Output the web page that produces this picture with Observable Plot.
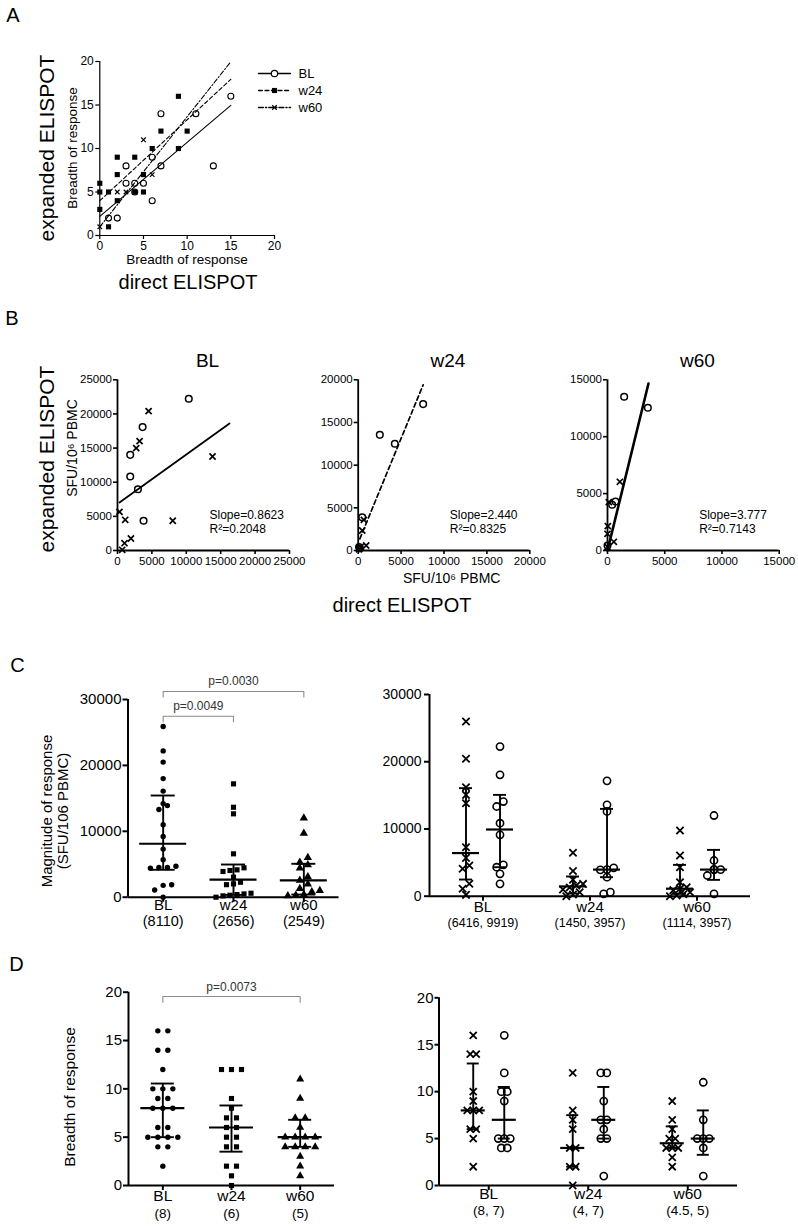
<!DOCTYPE html>
<html><head><meta charset="utf-8">
<script src="https://cdn.jsdelivr.net/npm/d3@7"></script>
<script src="https://cdn.jsdelivr.net/npm/@observablehq/plot@0.6"></script>
<style>
html,body{margin:0;padding:0;background:#fff;overflow:hidden}
#page{position:relative;width:798px;height:1229px;font-family:"Liberation Sans",Arial,Helvetica,sans-serif;color:#000;background:#fff}
.lbl{position:absolute;white-space:nowrap;line-height:1}
</style></head>
<body><div id="page"></div>
<script>
// ================= DATA =================
const cats = ["BL", "w24", "w60"];

// Panel A: breadth of response, direct (x) vs expanded (y) ELISPOT
const aBLDirect    = [1, 2, 3, 3, 4, 4, 5, 6, 6, 7, 7, 11, 13, 15];
const aBLExpanded  = [2, 2, 8, 6, 6, 5, 6, 9, 4, 14, 8, 14, 8, 16];
const aW24Direct   = [0, 0, 0, 1, 1, 2, 2, 2, 4, 4, 5, 5, 6, 7, 9, 9, 10];
const aW24Expanded = [6, 5, 3, 5, 1, 9, 7, 4, 9, 5, 7, 5, 10, 12, 16, 10, 12];
const aW60Direct   = [0, 2, 3, 5, 6];
const aW60Expanded = [1, 5, 5, 11, 7];
const aFitSlope     = [0.85, 0.93, 1.265];
const aFitIntercept = [2.2, 4.0, 1.0];
const aFitRange     = [0, 15];
const aTicks = [0, 5, 10, 15, 20];

// Panel B: SFU/10^6 PBMC, direct (x) vs expanded (y)
const bBL_Ox = [10360, 3650, 1850, 1850, 2970, 3790];
const bBL_Oy = [22220, 18070, 14010, 10840, 8980, 4350];
const bBL_Xx = [4520, 3210, 2720, 13810, 290, 1120, 8030, 1950, 1020, 680];
const bBL_Xy = [20410, 16020, 14990, 13770, 5660, 4490, 4350, 1760, 1070, 100];
const bW24_Ox = [2520, 4270, 7570, 470, 100, 200];
const bW24_Oy = [13550, 12500, 17150, 3900, 400, 250];
const bW24_Xx = [660, 470, 930, 270, 100];
const bW24_Xy = [3590, 2340, 590, 390, 150];
const bW60_Ox = [1456, 3525, 699, 408, 0];
const bW60_Oy = [13507, 12540, 4307, 4014, 440];
const bW60_Xx = [1078, 117, 29, 0, 553, 0];
const bW60_Xy = [6036, 4250, 2140, 1465, 762, 300];
const bFitSlope     = [0.7236, 2.444, 4.1];
const bFitIntercept = [6820, 906, 0];
const bFitStart     = [290, 190, 0];
const bFitEnd       = [16280, 7570, 3580];
const bSlopeText = ["0.8623", "2.440", "3.777"];
const bR2Text    = ["0.2048", "0.8325", "0.7143"];
const bTicks = [
  [0, 5000, 10000, 15000, 20000, 25000],
  [0, 5000, 10000, 15000, 20000],
  [0, 5000, 10000, 15000]
];

// Panel C (left): magnitude of response
const magBL  = [25900, 22200, 20500, 18000, 16100, 14200, 13900, 13300, 11000, 9200, 7300, 5700, 4700, 4500, 4500, 4400, 1900, 1800, 1100, 0];
const magW24 = [17200, 13650, 12650, 6580, 4460, 4150, 4050, 3900, 3040, 2270, 2020, 1900, 600, 500, 400, 300, 200, 0];
const magW60 = [12000, 9700, 6000, 5300, 4900, 4400, 3100, 2550, 2000, 1300, 1000, 800, 400, 300, 200];
const magMedian = [8110, 2656, 2549];
const magQ1 = [4160, 350, 400];
const magQ3 = [15430, 4960, 5070];
const magTicks = [0, 10000, 20000, 30000];
const magComparisons = [{a: "BL", b: "w24", p: "p=0.0049"}, {a: "BL", b: "w60", p: "p=0.0030"}];

// Panel C (right): magnitude split in two subgroups (× and ○)
const magX = [
  [25980, 20430, 16210, 15070, 13830, 7290, 5700, 4560, 4070, 1840, 1100, 200],
  [6450, 3750, 2440, 1830, 1600, 1300, 1000, 600, 250, 0],
  [9770, 6050, 4300, 2080, 1340, 1114, 900, 600, 300, 100, 0]
];
const magO = [
  [22260, 18050, 14080, 13340, 10860, 9130, 4670, 4310, 3330, 1840],
  [17160, 13590, 12600, 4220, 3960, 3920, 2830, 600, 350],
  [12000, 5310, 3990, 3960, 3930, 3080, 350]
];
const magXMedian = [6416, 1450, 1114], magXQ1 = [2480, 400, 350], magXQ3 = [16070, 2930, 4660];
const magOMedian = [9919, 3957, 3957], magOQ1 = [4310, 2830, 2430], magOQ3 = [15070, 12990, 6890];

// Panel D (left): breadth of response
const brBL  = [16, 16, 14, 14, 12, 10, 10, 10, 9, 9, 8, 8, 8, 6, 6, 5, 5, 5, 5, 4, 4, 2];
const brW24 = [12, 12, 12, 9, 8, 7, 7, 6, 6, 5, 5, 4, 4, 2, 2, 1, 0];
const brW60 = [11, 9, 7, 7, 6, 5, 5, 5, 5, 4, 4, 4, 4, 3, 2, 1];
const brMedian = [8, 6, 5], brQ1 = [5, 3.5, 4], brQ3 = [10.55, 8.28, 6.8];
const brTicks = [0, 5, 10, 15, 20];
const brComparisons = [{a: "BL", b: "w60", p: "p=0.0073"}];

// Panel D (right): breadth split in two subgroups
const brX = [
  [16, 14, 14, 10, 9, 8, 8, 8, 6, 6, 5, 2],
  [12, 8, 7, 6, 4, 4, 2, 2, 0],
  [9, 7, 6, 5, 5, 4, 4, 4, 3, 2]
];
const brO = [
  [16, 12, 10, 10, 9, 5, 5, 5, 4, 4],
  [12, 12, 9, 7, 7, 6, 5, 5, 1],
  [11, 7, 5, 5, 5, 4, 1]
];
const brXMedian = [8, 4, 4.5], brXQ1 = [6, 2, 4], brXQ3 = [13, 7.5, 6.3];
const brOMedian = [7, 7, 5], brOQ1 = [5, 5, 3.27], brOQ3 = [10.5, 10.5, 8];

// ================= HELPERS =================
const W = 798, H = 1229;
const FONT = '"Liberation Sans", Arial, Helvetica, sans-serif';
const page = document.getElementById("page");

function addPlot(fr, x, y, marks, fontSize) {
  const svg = Plot.plot({
    width: W, height: H,
    marginLeft: fr.left, marginRight: W - fr.right,
    marginTop: fr.top, marginBottom: H - fr.bottom,
    x: {...x, axis: null}, y: {...y, axis: null},
    style: {background: "transparent", fontFamily: FONT, fontSize: (fontSize || 12) + "px", color: "#000", overflow: "visible"},
    marks
  });
  svg.style.position = "absolute"; svg.style.left = "0px"; svg.style.top = "0px";
  page.appendChild(svg);
  return svg;
}
function label(text, cx, cy, size, rotate) {
  const d = document.createElement("div");
  d.className = "lbl";
  d.textContent = text;
  d.style.left = cx + "px"; d.style.top = cy + "px"; d.style.fontSize = size + "px";
  d.style.transform = "translate(-50%,-50%)" + (rotate ? " rotate(-90deg)" : "");
  page.appendChild(d);
}
// row-based scatter layout (like Prism's column scatter)
function swarm(values, cx, pxX, pxY, gapPx, spacingPx) {
  const order = d3.range(values.length).sort((a, b) => d3.ascending(values[a], values[b]));
  const pts = []; let row = [];
  const flush = () => {
    row.forEach((j, k) => pts.push({x: cx + (k - (row.length - 1) / 2) * spacingPx / pxX, y: values[j]}));
    row = [];
  };
  for (const j of order) {
    if (row.length && (values[j] - values[row[0]]) * pxY >= gapPx) flush();
    row.push(j);
  }
  flush();
  return pts;
}

// ================= PANEL A =================
{
  const fr = {left: 99.3, right: 274, top: 61, bottom: 235};
  const fits = [
    {dash: null}, {dash: "4,2.5"}, {dash: "5,2,1.2,2"}
  ].map((s, i) => Plot.line(aFitRange, {
    x: d => d, y: d => aFitIntercept[i] + aFitSlope[i] * d,
    stroke: "black", strokeWidth: 1.1, strokeDasharray: s.dash
  }));
  addPlot(fr, {domain: [0, 20]}, {domain: [0, 20]}, [
    ...fits,
    Plot.dot(aW24Direct, {x: d => d, y: (d, i) => aW24Expanded[i], symbol: "square", r: 2.9, fill: "black"}),
    Plot.dot(aW60Direct, {x: d => d, y: (d, i) => aW60Expanded[i], symbol: "times", r: 2.2, stroke: "black", strokeWidth: 1.2, fill: "none"}),
    Plot.dot(aBLDirect, {x: d => d, y: (d, i) => aBLExpanded[i], symbol: "circle", r: 3, stroke: "black", strokeWidth: 1.1, fill: "none"}),
    Plot.ruleX([0], {strokeWidth: 1.2}),
    Plot.ruleY([0], {strokeWidth: 1.2}),
    Plot.axisX({ticks: aTicks, tickSize: 4, tickPadding: 2, fontSize: 12, strokeWidth: 1.2, tickFormat: "d"}),
    Plot.axisY({ticks: aTicks, tickSize: 4, tickPadding: 2, fontSize: 12, strokeWidth: 1.2, tickFormat: "d"})
  ], 12);
  // legend
  const lf = {left: 258, right: 290, top: 72, bottom: 107};
  const dashes = [null, "4,2.5", "5,2,1.2,2"];
  const legendMarks = [];
  cats.forEach((c, i) => legendMarks.push(
    Plot.line([0, 1], {x: d => d, y: () => c, stroke: "black", strokeWidth: 1.3, strokeDasharray: dashes[i]})
  ));
  legendMarks.push(
    Plot.dot([cats[0]], {x: 0.5, y: d => d, symbol: "circle", r: 3.2, stroke: "black", fill: "white", strokeWidth: 1.2}),
    Plot.dot([cats[1]], {x: 0.5, y: d => d, symbol: "square", r: 2.9, fill: "black"}),
    Plot.dot([cats[2]], {x: 0.5, y: d => d, symbol: "times", r: 2.2, stroke: "black", strokeWidth: 1.2}),
    Plot.text(cats, {x: 1, y: d => d, text: d => d, dx: 8, textAnchor: "start", fontSize: 13})
  );
  addPlot(lf, {domain: [0, 1]}, {type: "point", domain: cats, padding: 0}, legendMarks, 13);

  label("A", 13, 15, 20);
  label("expanded ELISPOT", 45.5, 148, 21, true);
  label("Breadth of response", 73, 148, 13.5, true);
  label("Breadth of response", 187, 260, 13.5);
  label("direct ELISPOT", 188, 282, 20);
}

// ================= PANEL B =================
{
  const panels = [
    {fr: {left: 117, right: 289, top: 379.3, bottom: 550}, ox: bBL_Ox, oy: bBL_Oy, xx: bBL_Xx, xy: bBL_Xy, dash: null, sw: 1.8},
    {fr: {left: 357.7, right: 529.3, top: 379.3, bottom: 550}, ox: bW24_Ox, oy: bW24_Oy, xx: bW24_Xx, xy: bW24_Xy, dash: "4.5,3", sw: 1.7},
    {fr: {left: 607, right: 778.7, top: 379.3, bottom: 550}, ox: bW60_Ox, oy: bW60_Oy, xx: bW60_Xx, xy: bW60_Xy, dash: null, sw: 2.6}
  ];
  panels.forEach((p, i) => {
    const ticks = bTicks[i];
    const max = ticks[ticks.length - 1];
    addPlot(p.fr, {domain: [0, max]}, {domain: [0, max]}, [
      Plot.line([bFitStart[i], bFitEnd[i]], {x: d => d, y: d => bFitIntercept[i] + bFitSlope[i] * d, stroke: "black", strokeWidth: p.sw, strokeDasharray: p.dash}),
      Plot.dot(p.xx, {x: d => d, y: (d, j) => p.xy[j], symbol: "times", r: 2.9, stroke: "black", strokeWidth: 1.7, fill: "none"}),
      Plot.dot(p.ox, {x: d => d, y: (d, j) => p.oy[j], symbol: "circle", r: 3.3, stroke: "black", strokeWidth: 1.5, fill: "none"}),
      Plot.ruleX([0], {strokeWidth: 1.8}),
      Plot.ruleY([0], {strokeWidth: 1.8}),
      Plot.axisX({ticks, tickSize: 4, tickPadding: 2, fontSize: 11.5, strokeWidth: 1.6, tickFormat: "d"}),
      Plot.axisY({ticks, tickSize: 4, tickPadding: 1.5, fontSize: 11.5, strokeWidth: 1.6, tickFormat: "d"}),
      Plot.text([cats[i]], {frameAnchor: "top", dx: 4, dy: -26, text: d => d, fontSize: 19}),
      Plot.text(["Slope=" + bSlopeText[i]], {frameAnchor: "bottom-right", dx: -80, dy: -32, text: d => d, textAnchor: "start", fontSize: 12}),
      Plot.text(["R²=" + bR2Text[i]], {frameAnchor: "bottom-right", dx: -80, dy: -18, text: d => d, textAnchor: "start", fontSize: 12})
    ], 11.5);
  });
  label("B", 12, 318, 20);
  label("expanded ELISPOT", 45.5, 459, 21, true);
  label("SFU/10⁶ PBMC", 72, 448, 14, true);
  label("SFU/10⁶ PBMC", 451.7, 578, 14);
  label("direct ELISPOT", 402, 605, 20);
}

// ================= CATEGORY PANELS (C, D) =================
function catPanel(cfg) {
  const fr = cfg.fr;
  const yMax = cfg.ticks[cfg.ticks.length - 1];
  const pxX = (fr.right - fr.left) / 3;
  const pxY = (fr.bottom - fr.top) / yMax;
  const marks = [];
  for (const g of cfg.groups) {
    const pts = g.values.flatMap((vals, i) => swarm(vals, i + g.shift, pxX, pxY, g.gap, g.spacing));
    const isStroke = g.symbol === "times" || !g.filled;
    marks.push(Plot.dot(pts, {
      x: "x", y: "y", symbol: g.symbol, r: g.r,
      fill: g.filled ? "black" : "none",
      stroke: isStroke ? "black" : "none", strokeWidth: g.sw || 1.5
    }));
  }
  for (const g of cfg.groups) {
    const rows = g.med.map((m, i) => ({c: i + g.shift, m, q1: g.q1[i], q3: g.q3[i]}));
    const sw = cfg.lineW;
    marks.push(
      Plot.ruleX(rows, {x: "c", y1: "q1", y2: "q3", strokeWidth: sw}),
      Plot.ruleY(rows, {y: "m", x1: d => d.c - cfg.medHalf / pxX, x2: d => d.c + cfg.medHalf / pxX, strokeWidth: sw + 0.3}),
      Plot.ruleY(rows, {y: "q1", x1: d => d.c - cfg.capHalf / pxX, x2: d => d.c + cfg.capHalf / pxX, strokeWidth: sw}),
      Plot.ruleY(rows, {y: "q3", x1: d => d.c - cfg.capHalf / pxX, x2: d => d.c + cfg.capHalf / pxX, strokeWidth: sw})
    );
  }
  if (cfg.brackets) {
    const b = cfg.brackets;
    const toY = px => yMax - (px - fr.top) / pxY;
    const pts = [], txt = [];
    b.items.forEach((it, k) => {
      const top = fr.top + b.basePx - b.stepPx * k;
      const xa = cats.indexOf(it.a), xb = cats.indexOf(it.b);
      pts.push({k, x: xa, y: toY(top + b.tickPx)}, {k, x: xa, y: toY(top)}, {k, x: xb, y: toY(top)}, {k, x: xb, y: toY(top + b.tickPx)});
      txt.push({x: (xa + xb) / 2, y: toY(top - b.textPx), t: it.p});
    });
    marks.push(
      Plot.line(pts, {x: "x", y: "y", z: "k", stroke: "#8c8c8c", strokeWidth: 1.1}),
      Plot.text(txt, {x: "x", y: "y", text: "t", fontSize: 12, fill: "#333"})
    );
  }
  marks.push(
    Plot.ruleX([-0.5], {strokeWidth: cfg.axisW}),
    Plot.ruleY([0], {strokeWidth: cfg.axisW}),
    Plot.axisY({ticks: cfg.ticks, tickSize: cfg.tickSize, tickPadding: cfg.tickPadding, fontSize: cfg.tickFont, strokeWidth: cfg.axisW, tickFormat: "d"}),
    Plot.axisX({ticks: [0, 1, 2], tickSize: 5, tickPadding: 0, strokeWidth: cfg.axisW, tickFormat: () => ""}),
    Plot.text(cats, {x: (d, i) => i, frameAnchor: "bottom", dy: cfg.lab1dy, text: d => d, fontSize: cfg.lab1Font}),
    Plot.text(cfg.labels2, {x: (d, i) => i, frameAnchor: "bottom", dy: cfg.lab2dy, text: d => d, fontSize: cfg.lab2Font})
  );
  addPlot(fr, {domain: [-0.5, 2.5]}, {domain: [0, yMax]}, marks, cfg.tickFont);
}

// C left
catPanel({
  fr: {left: 127.5, right: 338.5, top: 699, bottom: 896.7},
  ticks: magTicks, tickFont: 15, tickSize: 5, tickPadding: 1.5, axisW: 2, lineW: 1.9,
  medHalf: 23.5, capHalf: 12,
  groups: [
    {values: [magBL, [], []], shift: 0, symbol: "circle", r: 2.7, filled: true, gap: 5.5, spacing: 8.5, med: magMedian, q1: magQ1, q3: magQ3},
    {values: [[], magW24, []], shift: 0, symbol: "square", r: 2.9, filled: true, gap: 5.5, spacing: 7, med: [], q1: [], q3: []},
    {values: [[], [], magW60], shift: 0, symbol: "triangle", r: 3.1, filled: true, gap: 5.5, spacing: 8, med: [], q1: [], q3: []}
  ],
  labels2: magMedian.map(m => "(" + m + ")"),
  lab1Font: 15, lab2Font: 14.5, lab1dy: 13, lab2dy: 28.5,
  brackets: {items: magComparisons, basePx: 16.7, stepPx: 24.7, tickPx: 5.5, textPx: 10.5}
});
// C right
catPanel({
  fr: {left: 429, right: 750, top: 694, bottom: 895.7},
  ticks: magTicks, tickFont: 14, tickSize: 5, tickPadding: 3, axisW: 2, lineW: 1.9,
  medHalf: 13.5, capHalf: 6.5,
  groups: [
    {values: magX, shift: -0.159, symbol: "times", r: 3.4, filled: false, sw: 1.8, gap: 6, spacing: 6.7, med: magXMedian, q1: magXQ1, q3: magXQ3},
    {values: magO, shift: 0.159, symbol: "circle", r: 3.6, filled: false, sw: 1.6, gap: 6, spacing: 6.7, med: magOMedian, q1: magOQ1, q3: magOQ3}
  ],
  labels2: magXMedian.map((m, i) => "(" + m + ", " + magOMedian[i] + ")"),
  lab1Font: 15, lab2Font: 12.5, lab1dy: 15.5, lab2dy: 30.5
});
// D left
catPanel({
  fr: {left: 128, right: 334, top: 991.7, bottom: 1185},
  ticks: brTicks, tickFont: 15, tickSize: 5, tickPadding: 1.5, axisW: 2, lineW: 1.9,
  medHalf: 22, capHalf: 11.5,
  groups: [
    {values: [brBL, [], []], shift: 0, symbol: "circle", r: 2.7, filled: true, gap: 5, spacing: 10, med: brMedian, q1: brQ1, q3: brQ3},
    {values: [[], brW24, []], shift: 0, symbol: "square", r: 2.9, filled: true, gap: 5, spacing: 10, med: [], q1: [], q3: []},
    {values: [[], [], brW60], shift: 0, symbol: "triangle", r: 3.0, filled: true, gap: 5, spacing: 10, med: [], q1: [], q3: []}
  ],
  labels2: brMedian.map(m => "(" + m + ")"),
  lab1Font: 15.5, lab2Font: 13.5, lab1dy: 15.5, lab2dy: 32.5,
  brackets: {items: brComparisons, basePx: 4.3, stepPx: 24, tickPx: 5.7, textPx: 9}
});
// D right
catPanel({
  fr: {left: 438.5, right: 737, top: 997.3, bottom: 1185},
  ticks: brTicks, tickFont: 15, tickSize: 4, tickPadding: 1.5, axisW: 2, lineW: 1.9,
  medHalf: 12, capHalf: 6,
  groups: [
    {values: brX, shift: -0.156, symbol: "times", r: 3.3, filled: false, sw: 1.8, gap: 5, spacing: 6, med: brXMedian, q1: brXQ1, q3: brXQ3},
    {values: brO, shift: 0.156, symbol: "circle", r: 3.6, filled: false, sw: 1.6, gap: 5, spacing: 6, med: brOMedian, q1: brOQ1, q3: brOQ3}
  ],
  labels2: brXMedian.map((m, i) => "(" + m + ", " + brOMedian[i] + ")"),
  lab1Font: 15.5, lab2Font: 13.5, lab1dy: 13, lab2dy: 29.5
});

label("C", 17.5, 665, 20);
label("Magnitude of response", 45.7, 811, 15, true);
label("(SFU/106 PBMC)", 61.7, 811, 15, true);
label("D", 16.5, 963.5, 20);
label("Breadth of response", 70, 1097, 15.5, true);
</script>
</body></html>
